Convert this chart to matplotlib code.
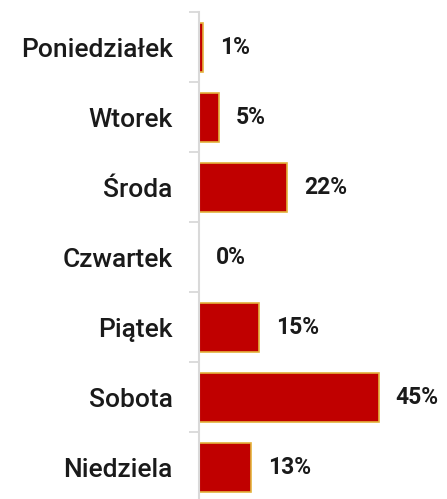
import numpy as np
import matplotlib
matplotlib.use('Agg')
import matplotlib.pyplot as plt

days = ['Poniedziałek', 'Wtorek', 'Środa', 'Czwartek', 'Piątek', 'Sobota', 'Niedziela']
shares = [1, 5, 22, 0, 15, 45, 13]
labels = ['1%', '5%', '22%', '0%', '15%', '45%', '13%']

plt.rcParams['font.family'] = ['Roboto', 'DejaVu Sans']

fig = plt.figure(figsize=(4.47, 4.99), dpi=100)
ax = fig.add_axes([199 / 447, -3 / 499, 1 - 199 / 447, 490 / 499])

y = np.arange(len(days))
ax.barh(y, shares, height=0.7, color='#C00000', edgecolor='#E3B23C', linewidth=1.2)
for yi, v, lab in zip(y, shares, labels):
    ax.text(v + 4.2, yi, lab, va='center', ha='left', fontsize=16.5, fontweight='bold', color='#1a1a1a')

ax.set_xlim(0, 62)
ax.set_ylim(len(days) - 0.5, -0.5)
ax.set_yticks(y)
ax.set_yticklabels(days, fontsize=19, fontweight='medium', color='#1a1a1a')
ax.set_yticks(np.arange(-0.5, len(days)), minor=True)
ax.tick_params(axis='y', which='major', length=0, pad=19)
ax.tick_params(axis='y', which='minor', length=7, width=1.3, color='#D9D9D9')
ax.set_xticks([])
for s in ['top', 'right', 'bottom']:
    ax.spines[s].set_visible(False)
ax.spines['left'].set_color('#D9D9D9')
ax.spines['left'].set_linewidth(1.5)

fig.savefig('out.png', dpi=100)
